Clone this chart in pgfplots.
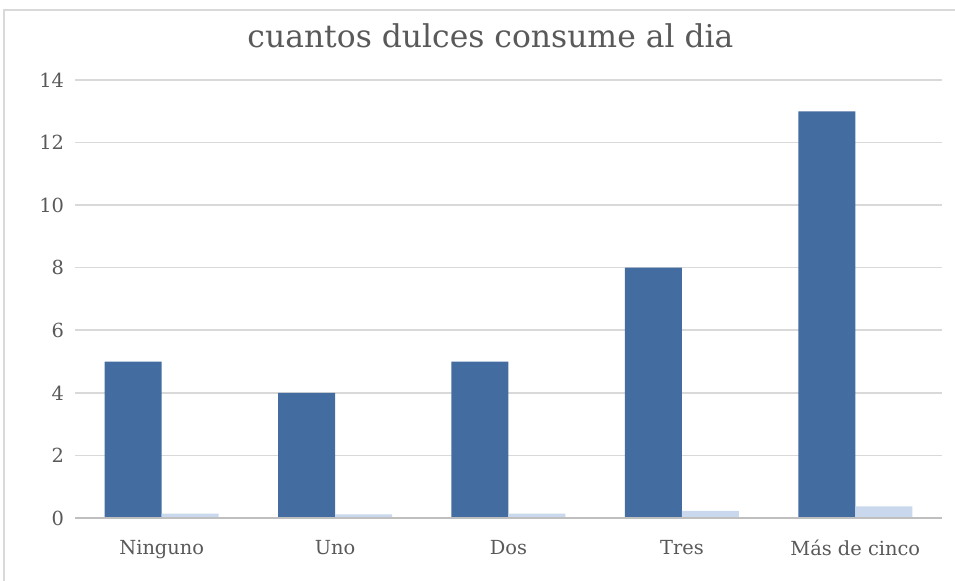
\documentclass[border=0pt]{standalone}
\usepackage{fontspec}
\setmainfont{DejaVu Serif}
\usepackage{pgfplots}
\pgfplotsset{compat=1.18}
\definecolor{darkbar}{HTML}{436CA1}
\definecolor{lightbar}{HTML}{C9D8EC}
\definecolor{gridc}{HTML}{D9D9D9}
\definecolor{txt}{HTML}{595959}
\begin{document}
\begin{tikzpicture}
\useasboundingbox (0,0) rectangle (477.5pt,290.5pt);
\draw[gridc, line width=0.6pt] (2pt,0pt) -- (2pt,285.5pt) -- (477.5pt,285.5pt);
\begin{axis}[
  at={(37.5pt,31.5pt)}, anchor=south west,
  scale only axis, width=433.5pt, height=219pt,
  ybar=0pt, bar width=28.5pt,
  xmin=-0.5, xmax=4.5, ymin=0, ymax=14,
  xtick={0,1,2,3,4},
  xticklabels={Ninguno,Uno,Dos,Tres,Más de cinco},
  ytick={0,2,...,14},
  axis line style={draw=none},
  major tick length=0pt,
  ymajorgrids, grid style={gridc, line width=0.8pt},
  tick label style={font=\fontsize{9.7}{11}\selectfont, text=txt},
  /pgf/number format/assume math mode=true,
  yticklabel style={xshift=-2pt},
  xticklabel style={yshift=-7.5pt},
  title={cuantos dulces consume al dia},
  title style={at={(0.5,1)}, anchor=center, yshift=16pt, xshift=-9pt, font=\fontsize{15.7}{18}\selectfont, text=txt},
  clip=false,
]
\addplot[fill=darkbar, draw=none] coordinates {(0,5) (1,4) (2,5) (3,8) (4,13)};
\addplot[fill=lightbar, draw=none] coordinates {(0,0.143) (1,0.114) (2,0.143) (3,0.229) (4,0.371)};
\draw[color={rgb,255:red,191;green,191;blue,191}, line width=0.8pt] (axis cs:-0.5,0) -- (axis cs:4.5,0);
\end{axis}
\end{tikzpicture}
\end{document}
